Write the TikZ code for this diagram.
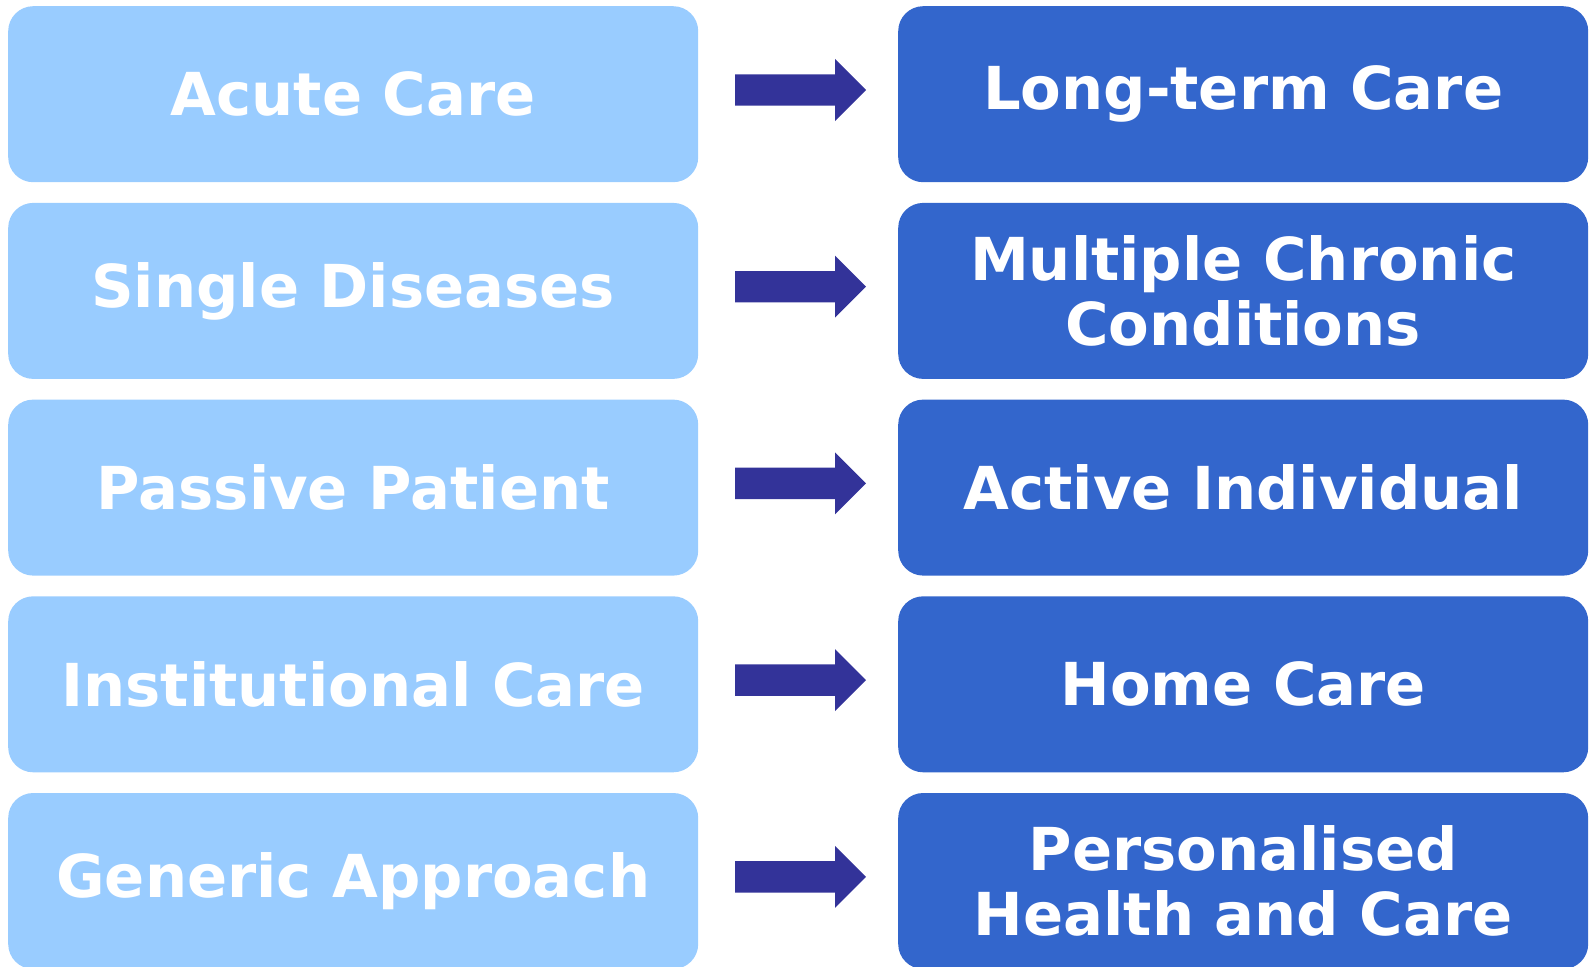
\documentclass[tikz,border=0pt]{standalone}
\usepackage{fontspec}
\setmainfont{DejaVu Sans}
\definecolor{lightbox}{HTML}{99CCFF}
\definecolor{darkbox}{HTML}{3366CC}
\definecolor{arrowcol}{HTML}{333399}
\tikzset{
  box/.style={rectangle, rounded corners=25pt, minimum width=690pt, minimum height=176pt,
    inner sep=0pt, align=center, text=white, anchor=north west,
    font=\fontsize{59.2}{64.5}\selectfont\bfseries},
  oldbox/.style={box, fill=lightbox},
  newbox/.style={box, fill=darkbox},
  blockarrow/.style={fill=arrowcol, draw=none}
}
\begin{document}
\begin{tikzpicture}[x=1pt,y=-1pt]
\useasboundingbox (0,0) rectangle (1589,966);
\foreach \i/\a/\b in {0/{Acute Care}/{Long-term Care},
                      1/{Single Diseases}/{Multiple Chronic\\Conditions},
                      2/{Passive Patient}/{Active Individual},
                      3/{Institutional Care}/{Home Care},
                      4/{Generic Approach}/{Personalised\\Health and Care}}{
  \node[oldbox] (L\i) at (8,{6+196.7*\i}) {\a};
  \node[newbox] (R\i) at (898,{6+196.7*\i}) {\b};
  \coordinate (A\i) at (800.5,{90+196.7*\i});
  \fill[blockarrow] ([shift={(-65.5,-15.7)}]A\i) -- ([shift={(34.5,-15.7)}]A\i)
     -- ([shift={(34.5,-31)}]A\i) -- ([shift={(65.5,0)}]A\i)
     -- ([shift={(34.5,31)}]A\i) -- ([shift={(34.5,15.7)}]A\i)
     -- ([shift={(-65.5,15.7)}]A\i) -- cycle;
}
\end{tikzpicture}
\end{document}
